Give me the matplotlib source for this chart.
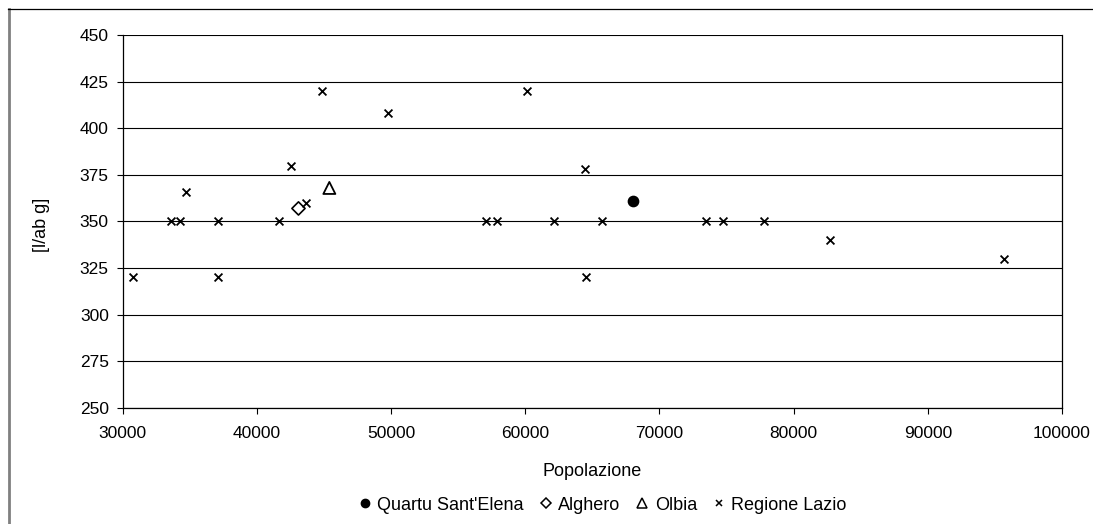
import matplotlib
matplotlib.use("Agg")
import matplotlib.pyplot as plt
from matplotlib.lines import Line2D

plt.rcParams['font.family'] = ['Liberation Sans', 'DejaVu Sans']

# Population vs daily water consumption per inhabitant
quartu_pop = [68000]
quartu_val = [361]

alghero_pop = [43100]
alghero_val = [357]

olbia_pop = [45400]
olbia_val = [368]

lazio_pop = [30750, 33600, 34300, 34750, 37100, 37100, 41650, 42550, 43650,
             44850, 49800, 57050, 57900, 60100, 62150, 64450, 64550, 65750,
             73450, 74700, 77800, 82700, 95700]
lazio_val = [320, 350, 350, 366, 350, 320, 350, 380, 360,
             420, 408, 350, 350, 420, 350, 378, 320, 350,
             350, 350, 350, 340, 330]

y_ticks = [250, 275, 300, 325, 350, 375, 400, 425, 450]
x_ticks = [30000, 40000, 50000, 60000, 70000, 80000, 90000, 100000]

W, H = 1093, 524
AX_L, AX_R, AX_T, AX_B = 122.7, 1062, 35, 408
fig = plt.figure(figsize=(W / 100, H / 100), dpi=100)
ax = fig.add_axes([AX_L / W, 1 - AX_B / H, (AX_R - AX_L) / W, (AX_B - AX_T) / H])

ax.set_xlim(30000, 100000)
ax.set_ylim(250, 450)
ax.set_xticks(x_ticks)
ax.set_yticks(y_ticks)
ax.tick_params(direction='out', length=4, width=0.8, labelsize=12.5, colors='black')
ax.tick_params(axis='x', pad=9)
ax.tick_params(axis='y', pad=6)
ax.set_axisbelow(True)
ax.grid(axis='y', color='black', linewidth=0.8)
for s in ax.spines.values():
    s.set_color('black')
    s.set_linewidth(0.9)
ax.spines['top'].set_visible(False)

ax.scatter(quartu_pop, quartu_val, marker='o', s=55, color='black', zorder=3)
ax.scatter(alghero_pop, alghero_val, marker='D', s=45, facecolor='none',
           edgecolor='black', linewidth=1.2, zorder=3)
ax.scatter(olbia_pop, olbia_val, marker='^', s=75, facecolor='none',
           edgecolor='black', linewidth=1.3, zorder=3)
ax.scatter(lazio_pop, lazio_val, marker='x', s=32, color='black',
           linewidth=1.3, zorder=3)

ax.set_xlabel('Popolazione', fontsize=13)
ax.xaxis.label.set_va('center')
ax.xaxis.set_label_coords(0.5, -(471 - AX_B) / (AX_B - AX_T))
ax.set_ylabel('[l/ab g]', fontsize=13)
ax.yaxis.label.set_va('center')
ax.yaxis.set_label_coords(-(AX_L - 41) / (AX_R - AX_L), 0.49)

handles = [
    Line2D([], [], ls='none', marker='o', ms=6, color='black'),
    Line2D([], [], ls='none', marker='D', ms=5, mfc='none', mec='black', mew=1.1),
    Line2D([], [], ls='none', marker='^', ms=6.5, mfc='none', mec='black', mew=1.1),
    Line2D([], [], ls='none', marker='x', ms=5, color='black', mew=1.1),
]
labels = ["Quartu Sant'Elena", 'Alghero', 'Olbia', 'Regione Lazio']
fig.legend(handles, labels, loc='center', bbox_to_anchor=(603 / W, 1 - 505 / H),
           ncol=4, frameon=False, fontsize=13, handlelength=0.6,
           handletextpad=0.4, columnspacing=0.9)

# Chart area frame lines
fig.add_artist(Line2D([8.5 / W, 8.5 / W], [0, 1 - 9 / H], transform=fig.transFigure,
                      color='#808080', linewidth=2))
fig.add_artist(Line2D([8 / W, 1], [1 - 9 / H, 1 - 9 / H], transform=fig.transFigure,
                      color='black', linewidth=0.9))

fig.savefig('out.png', dpi=100)
